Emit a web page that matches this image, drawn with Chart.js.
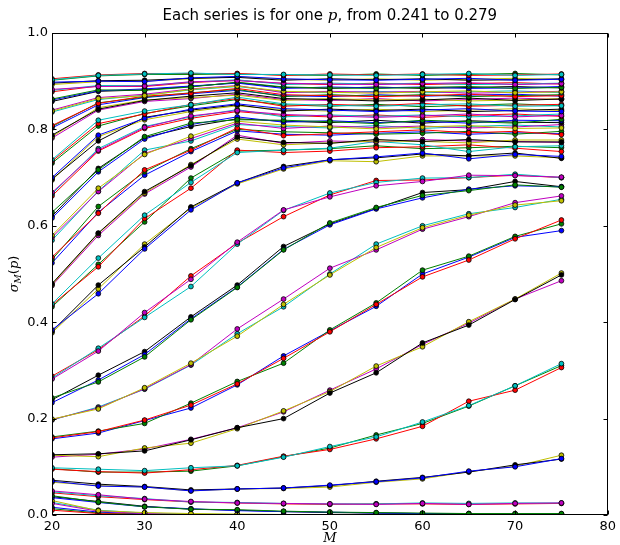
<!DOCTYPE html>
<html>
<head>
<meta charset="utf-8">
<script src="https://cdn.jsdelivr.net/npm/chart.js@4.4.1/dist/chart.umd.min.js"></script>
<style>
  html, body { margin: 0; background: #fff; }
  #chart { display: block; }
</style>
</head>
<body>
<canvas id="chart" width="620" height="545"></canvas>
<script>
// ── data: sigma_M(p), one array per p (81 series) ───────────────────────────
const mValues = [20, 25, 30, 35, 40, 45, 50, 55, 60, 65, 70, 75];
const pFirst = "0.241", pLast = "0.279";
const xTicks = [20, 30, 40, 50, 60, 70, 80];
const yTicks = [0, 0.2, 0.4, 0.6, 0.8, 1.0];

const s00 = [0.016, 0.006, 0.002, 0.001, 0.000, 0.000, 0.000, 0.000, 0.000, 0.000, 0.000, 0.000];
const s01 = [0.013, 0.004, 0.001, 0.000, 0.000, 0.000, 0.000, 0.000, 0.000, 0.000, 0.000, 0.000];
const s02 = [0.010, 0.003, 0.001, 0.000, 0.000, 0.000, 0.000, 0.000, 0.000, 0.000, 0.000, 0.000];
const s03 = [0.026, 0.010, 0.004, 0.002, 0.001, 0.001, 0.000, 0.000, 0.000, 0.000, 0.000, 0.000];
const s04 = [0.024, 0.008, 0.003, 0.001, 0.001, 0.000, 0.000, 0.000, 0.000, 0.000, 0.000, 0.000];
const s05 = [0.030, 0.009, 0.005, 0.003, 0.002, 0.001, 0.001, 0.000, 0.000, 0.000, 0.000, 0.000];
const s06 = [0.038, 0.028, 0.018, 0.012, 0.010, 0.007, 0.005, 0.004, 0.003, 0.003, 0.002, 0.002];
const s07 = [0.036, 0.026, 0.017, 0.013, 0.009, 0.007, 0.006, 0.004, 0.003, 0.002, 0.002, 0.002];
const s08 = [0.040, 0.027, 0.017, 0.012, 0.011, 0.008, 0.006, 0.005, 0.004, 0.003, 0.003, 0.003];
const s09 = [0.046, 0.038, 0.032, 0.027, 0.025, 0.023, 0.022, 0.023, 0.023, 0.022, 0.023, 0.024];
const s10 = [0.048, 0.040, 0.034, 0.027, 0.026, 0.024, 0.023, 0.023, 0.025, 0.024, 0.025, 0.025];
const s11 = [0.050, 0.042, 0.033, 0.028, 0.025, 0.024, 0.023, 0.022, 0.024, 0.022, 0.024, 0.025];
const s12 = [0.068, 0.061, 0.058, 0.050, 0.054, 0.055, 0.058, 0.068, 0.075, 0.090, 0.101, 0.124];
const s13 = [0.072, 0.064, 0.059, 0.052, 0.054, 0.056, 0.061, 0.070, 0.078, 0.089, 0.104, 0.116];
const s14 = [0.070, 0.060, 0.058, 0.050, 0.054, 0.056, 0.062, 0.069, 0.077, 0.091, 0.100, 0.117];
const s15 = [0.096, 0.089, 0.089, 0.091, 0.102, 0.121, 0.139, 0.166, 0.190, 0.226, 0.268, 0.310];
const s16 = [0.095, 0.090, 0.087, 0.094, 0.103, 0.122, 0.136, 0.158, 0.184, 0.236, 0.259, 0.306];
const s17 = [0.098, 0.095, 0.092, 0.098, 0.102, 0.120, 0.142, 0.162, 0.193, 0.227, 0.268, 0.314];
const s18 = [0.120, 0.126, 0.137, 0.157, 0.181, 0.214, 0.259, 0.303, 0.354, 0.398, 0.448, 0.486];
const s19 = [0.124, 0.121, 0.139, 0.149, 0.179, 0.216, 0.256, 0.309, 0.349, 0.401, 0.448, 0.502];
const s20 = [0.125, 0.127, 0.133, 0.156, 0.181, 0.200, 0.253, 0.295, 0.357, 0.394, 0.447, 0.498];
const s21 = [0.158, 0.170, 0.196, 0.222, 0.270, 0.330, 0.382, 0.433, 0.500, 0.535, 0.576, 0.590];
const s22 = [0.162, 0.174, 0.190, 0.232, 0.277, 0.315, 0.384, 0.440, 0.508, 0.537, 0.578, 0.604];
const s23 = [0.160, 0.173, 0.197, 0.228, 0.272, 0.325, 0.380, 0.437, 0.494, 0.529, 0.573, 0.612];
const s24 = [0.197, 0.224, 0.261, 0.311, 0.376, 0.432, 0.500, 0.562, 0.600, 0.625, 0.638, 0.655];
const s25 = [0.198, 0.222, 0.262, 0.312, 0.386, 0.448, 0.512, 0.550, 0.593, 0.619, 0.648, 0.662];
const s26 = [0.199, 0.220, 0.264, 0.315, 0.371, 0.437, 0.498, 0.555, 0.596, 0.622, 0.643, 0.652];
const s27 = [0.239, 0.290, 0.339, 0.411, 0.477, 0.557, 0.604, 0.636, 0.669, 0.675, 0.692, 0.681];
const s28 = [0.233, 0.280, 0.333, 0.407, 0.473, 0.551, 0.602, 0.635, 0.658, 0.676, 0.683, 0.681];
const s29 = [0.243, 0.276, 0.328, 0.405, 0.472, 0.550, 0.606, 0.638, 0.663, 0.673, 0.685, 0.680];
const s30 = [0.288, 0.343, 0.413, 0.496, 0.564, 0.619, 0.664, 0.694, 0.695, 0.700, 0.705, 0.700];
const s31 = [0.284, 0.346, 0.410, 0.474, 0.562, 0.632, 0.668, 0.690, 0.699, 0.700, 0.707, 0.700];
const s32 = [0.282, 0.340, 0.420, 0.489, 0.566, 0.633, 0.660, 0.683, 0.692, 0.705, 0.704, 0.701];
const s33 = [0.378, 0.469, 0.562, 0.637, 0.687, 0.718, 0.735, 0.733, 0.745, 0.745, 0.745, 0.741];
const s34 = [0.381, 0.477, 0.556, 0.639, 0.689, 0.723, 0.737, 0.741, 0.749, 0.745, 0.751, 0.740];
const s35 = [0.384, 0.459, 0.552, 0.633, 0.689, 0.720, 0.737, 0.743, 0.751, 0.739, 0.748, 0.744];
const s36 = [0.432, 0.520, 0.608, 0.699, 0.755, 0.757, 0.760, 0.766, 0.760, 0.762, 0.765, 0.762];
const s37 = [0.436, 0.515, 0.615, 0.678, 0.757, 0.752, 0.755, 0.762, 0.764, 0.768, 0.761, 0.754];
const s38 = [0.438, 0.533, 0.622, 0.690, 0.752, 0.757, 0.761, 0.775, 0.768, 0.754, 0.764, 0.766];
const s39 = [0.476, 0.580, 0.666, 0.722, 0.788, 0.771, 0.776, 0.774, 0.779, 0.776, 0.775, 0.773];
const s40 = [0.478, 0.584, 0.668, 0.727, 0.780, 0.768, 0.772, 0.776, 0.775, 0.772, 0.778, 0.778];
const s41 = [0.480, 0.585, 0.671, 0.725, 0.784, 0.773, 0.771, 0.779, 0.775, 0.779, 0.774, 0.774];
const s42 = [0.523, 0.628, 0.705, 0.754, 0.797, 0.790, 0.788, 0.792, 0.795, 0.790, 0.793, 0.791];
const s43 = [0.530, 0.640, 0.712, 0.760, 0.800, 0.795, 0.793, 0.790, 0.792, 0.796, 0.790, 0.796];
const s44 = [0.535, 0.626, 0.716, 0.757, 0.803, 0.787, 0.791, 0.795, 0.799, 0.793, 0.796, 0.789];
const s45 = [0.570, 0.672, 0.757, 0.776, 0.810, 0.806, 0.803, 0.808, 0.802, 0.806, 0.809, 0.805];
const s46 = [0.576, 0.671, 0.750, 0.781, 0.813, 0.802, 0.807, 0.804, 0.807, 0.803, 0.805, 0.810];
const s47 = [0.580, 0.678, 0.748, 0.786, 0.817, 0.809, 0.805, 0.801, 0.805, 0.808, 0.802, 0.803];
const s48 = [0.620, 0.719, 0.783, 0.806, 0.822, 0.817, 0.814, 0.819, 0.813, 0.818, 0.815, 0.814];
const s49 = [0.616, 0.712, 0.780, 0.810, 0.826, 0.815, 0.818, 0.814, 0.817, 0.813, 0.819, 0.818];
const s50 = [0.628, 0.716, 0.785, 0.813, 0.820, 0.819, 0.816, 0.812, 0.819, 0.816, 0.813, 0.821];
const s51 = [0.662, 0.755, 0.802, 0.823, 0.837, 0.829, 0.826, 0.830, 0.825, 0.829, 0.832, 0.827];
const s52 = [0.666, 0.760, 0.806, 0.826, 0.841, 0.826, 0.830, 0.827, 0.830, 0.826, 0.828, 0.832];
const s53 = [0.669, 0.757, 0.804, 0.828, 0.839, 0.831, 0.828, 0.825, 0.828, 0.832, 0.826, 0.829];
const s54 = [0.695, 0.785, 0.820, 0.837, 0.849, 0.841, 0.838, 0.842, 0.837, 0.840, 0.843, 0.839];
const s55 = [0.697, 0.776, 0.825, 0.840, 0.851, 0.838, 0.842, 0.839, 0.842, 0.837, 0.839, 0.842];
const s56 = [0.700, 0.788, 0.823, 0.842, 0.853, 0.843, 0.840, 0.837, 0.840, 0.843, 0.838, 0.837];
const s57 = [0.730, 0.807, 0.833, 0.849, 0.862, 0.851, 0.848, 0.852, 0.847, 0.850, 0.853, 0.849];
const s58 = [0.734, 0.812, 0.832, 0.852, 0.864, 0.848, 0.852, 0.849, 0.854, 0.848, 0.850, 0.852];
const s59 = [0.737, 0.819, 0.838, 0.851, 0.867, 0.853, 0.850, 0.848, 0.851, 0.853, 0.848, 0.849];
const s60 = [0.782, 0.840, 0.858, 0.864, 0.873, 0.862, 0.860, 0.864, 0.859, 0.862, 0.865, 0.862];
const s61 = [0.785, 0.845, 0.861, 0.866, 0.871, 0.860, 0.864, 0.861, 0.863, 0.859, 0.861, 0.864];
const s62 = [0.788, 0.842, 0.860, 0.869, 0.876, 0.864, 0.862, 0.859, 0.861, 0.865, 0.860, 0.863];
const s63 = [0.803, 0.851, 0.866, 0.874, 0.881, 0.870, 0.868, 0.872, 0.869, 0.871, 0.873, 0.869];
const s64 = [0.806, 0.855, 0.867, 0.876, 0.883, 0.868, 0.872, 0.869, 0.872, 0.868, 0.870, 0.872];
const s65 = [0.808, 0.854, 0.869, 0.875, 0.885, 0.872, 0.870, 0.868, 0.870, 0.873, 0.868, 0.870];
const s66 = [0.836, 0.862, 0.871, 0.882, 0.889, 0.878, 0.876, 0.879, 0.876, 0.878, 0.880, 0.876];
const s67 = [0.840, 0.866, 0.873, 0.884, 0.891, 0.876, 0.879, 0.877, 0.879, 0.875, 0.877, 0.879];
const s68 = [0.838, 0.864, 0.870, 0.883, 0.890, 0.879, 0.877, 0.875, 0.878, 0.880, 0.876, 0.878];
const s69 = [0.858, 0.879, 0.882, 0.889, 0.897, 0.887, 0.885, 0.888, 0.885, 0.887, 0.889, 0.886];
const s70 = [0.861, 0.880, 0.884, 0.890, 0.896, 0.885, 0.888, 0.886, 0.888, 0.885, 0.886, 0.889];
const s71 = [0.863, 0.882, 0.881, 0.888, 0.898, 0.888, 0.886, 0.885, 0.887, 0.889, 0.885, 0.887];
const s72 = [0.878, 0.890, 0.889, 0.897, 0.902, 0.895, 0.893, 0.896, 0.893, 0.895, 0.897, 0.894];
const s73 = [0.881, 0.891, 0.891, 0.898, 0.903, 0.893, 0.896, 0.894, 0.896, 0.893, 0.894, 0.896];
const s74 = [0.883, 0.889, 0.890, 0.899, 0.901, 0.896, 0.894, 0.893, 0.895, 0.897, 0.893, 0.895];
const s75 = [0.893, 0.899, 0.900, 0.905, 0.909, 0.904, 0.902, 0.905, 0.902, 0.904, 0.906, 0.903];
const s76 = [0.896, 0.901, 0.902, 0.906, 0.908, 0.902, 0.905, 0.903, 0.905, 0.902, 0.903, 0.905];
const s77 = [0.898, 0.900, 0.899, 0.907, 0.910, 0.905, 0.903, 0.902, 0.904, 0.906, 0.902, 0.904];
const s78 = [0.902, 0.911, 0.914, 0.914, 0.915, 0.913, 0.912, 0.915, 0.912, 0.914, 0.916, 0.913];
const s79 = [0.905, 0.913, 0.916, 0.916, 0.916, 0.912, 0.915, 0.913, 0.915, 0.912, 0.913, 0.915];
const s80 = [0.903, 0.912, 0.915, 0.917, 0.914, 0.914, 0.913, 0.912, 0.914, 0.916, 0.912, 0.914];

const allSeries = [
  s00, s01, s02, s03, s04, s05, s06, s07, s08, s09, s10, s11, s12, s13, s14, s15, s16,
  s17, s18, s19, s20, s21, s22, s23, s24, s25, s26, s27, s28, s29, s30, s31, s32, s33,
  s34, s35, s36, s37, s38, s39, s40, s41, s42, s43, s44, s45, s46, s47, s48, s49, s50,
  s51, s52, s53, s54, s55, s56, s57, s58, s59, s60, s61, s62, s63, s64, s65, s66, s67,
  s68, s69, s70, s71, s72, s73, s74, s75, s76, s77, s78, s79, s80,
];

// matplotlib classic colour cycle b g r c m y k
const cycle = ["#0000ff", "#008000", "#ff0000", "#00bfbf", "#bf00bf", "#bfbf00", "#000000"];

const datasets = allSeries.map((vals, i) => ({
  label: "series " + i,
  data: vals.map((v, j) => ({ x: mValues[j], y: v })),
  borderColor: cycle[i % 7],
  backgroundColor: cycle[i % 7],
  borderWidth: 1,
  pointRadius: 2.4,
  pointBorderWidth: 0.8,
  pointBorderColor: "#000",
  pointBackgroundColor: cycle[i % 7],
  tension: 0,
  clip: 0,
  order: allSeries.length - i, // later series drawn on top, like matplotlib
}));

// ── frame, inward ticks, title and axis labels ──────────────────────────────
const FONT = '"DejaVu Sans", sans-serif';
const MATH = '"DejaVu Serif", serif';

const decorations = {
  id: "decorations",
  afterDraw(chart) {
    const { ctx, chartArea: a, scales: { x, y } } = chart;
    ctx.save();
    ctx.strokeStyle = "#000";
    ctx.lineWidth = 1;
    const L = Math.round(a.left) + 0.5, R = Math.round(a.right) - 0.5;
    const T = Math.round(a.top) + 0.5, B = Math.round(a.bottom) - 0.5;
    ctx.strokeRect(L, T, R - L, B - T);

    ctx.beginPath();
    for (const v of xTicks) {
      const px = Math.round(x.getPixelForValue(v)) + 0.5;
      ctx.moveTo(px, B); ctx.lineTo(px, B - 4);
      ctx.moveTo(px, T); ctx.lineTo(px, T + 4);
    }
    for (const v of yTicks) {
      const py = Math.round(y.getPixelForValue(v)) + 0.5;
      ctx.moveTo(L, py); ctx.lineTo(L + 4, py);
      ctx.moveTo(R, py); ctx.lineTo(R - 4, py);
    }
    ctx.stroke();

    // title with italic p
    ctx.fillStyle = "#000";
    ctx.textBaseline = "alphabetic";
    const parts = [
      ["Each series is for one ", "15px " + FONT],
      ["p", "italic 15px " + MATH],
      [", from " + pFirst + " to " + pLast, "15px " + FONT],
    ];
    let w = 0;
    for (const [t, f] of parts) { ctx.font = f; w += ctx.measureText(t).width; }
    let cx = (a.left + a.right) / 2 - w / 2;
    for (const [t, f] of parts) {
      ctx.font = f; ctx.textAlign = "left";
      ctx.fillText(t, cx, 20);
      cx += ctx.measureText(t).width;
    }

    // x label
    ctx.font = "italic 13px " + MATH;
    ctx.textAlign = "center";
    ctx.fillText("M", (a.left + a.right) / 2, 542);

    // y label: sigma_M(p), rotated
    ctx.translate(18, (a.top + a.bottom) / 2);
    ctx.rotate(-Math.PI / 2);
    const yl = [
      ["σ", "italic 13px " + MATH, 0],
      ["M", "italic 9px " + MATH, 3],
      ["(", "13px " + FONT, 0],
      ["p", "italic 13px " + MATH, 0],
      [")", "13px " + FONT, 0],
    ];
    let yw = 0;
    for (const [t, f] of yl) { ctx.font = f; yw += ctx.measureText(t).width; }
    let ox = -yw / 2;
    ctx.textAlign = "left";
    for (const [t, f, dy] of yl) {
      ctx.font = f;
      ctx.fillText(t, ox, dy);
      ox += ctx.measureText(t).width;
    }
    ctx.restore();
  },
};

new Chart(document.getElementById("chart"), {
  type: "line",
  data: { datasets },
  plugins: [decorations],
  options: {
    responsive: false,
    animation: false,
    devicePixelRatio: 1,
    layout: { padding: { top: 33, right: 10, left: 0, bottom: 0 } },
    plugins: { legend: { display: false }, tooltip: { enabled: false }, title: { display: false } },
    scales: {
      x: {
        type: "linear", min: 20, max: 80,
        afterBuildTicks: (s) => { s.ticks = xTicks.map((v) => ({ value: v })); },
        ticks: { color: "#000", font: { family: FONT, size: 13 }, padding: 4, maxRotation: 0 },
        grid: { display: false, drawTicks: false },
        border: { display: false },
        afterFit: (s) => { s.height = 30; },
      },
      y: {
        type: "linear", min: 0, max: 1,
        afterBuildTicks: (s) => { s.ticks = yTicks.map((v) => ({ value: v })); },
        ticks: { color: "#000", font: { family: FONT, size: 13 }, padding: 4, callback: (v) => v.toFixed(1) },
        grid: { display: false, drawTicks: false },
        border: { display: false },
        afterFit: (s) => { s.width = 52; },
      },
    },
  },
});
</script>
</body>
</html>
